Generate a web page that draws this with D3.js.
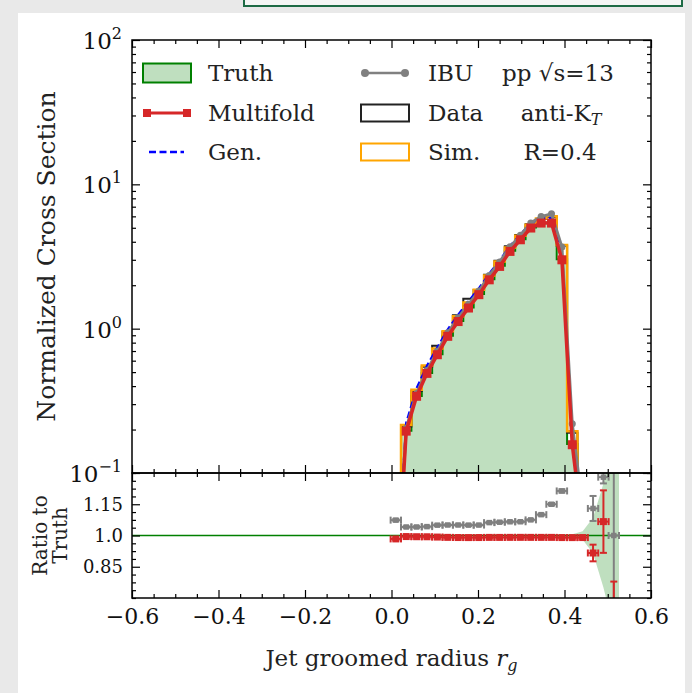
<!DOCTYPE html>
<html>
<head>
<meta charset="utf-8">
<script src="https://cdn.jsdelivr.net/npm/d3@7"></script>
<style>
  body { margin: 0; background: #e9e9e9; width: 692px; height: 693px; overflow: hidden; position: relative; }
  #topbox { position: absolute; left: 243px; top: -12px; width: 436px; height: 15px; border: 2px solid #1e6b45; background: #f5f6f5; }
  #card { position: absolute; left: 18px; top: 13px; width: 667px; height: 700px; background: #fff; }
  svg { position: absolute; left: 0; top: 0; }
</style>
</head>
<body>
<div id="topbox"></div>
<div id="card"></div>
<script>
// bins of the groomed radius
const rgCenters = [0.010, 0.034, 0.058, 0.082, 0.106, 0.130, 0.154, 0.178, 0.202, 0.226, 0.250,
                   0.274, 0.298, 0.322, 0.346, 0.370, 0.394, 0.418, 0.442, 0.466, 0.490, 0.514];
const binHalfWidth = 0.012;

// main panel values
const truthVals = [0.0122, 0.196, 0.342, 0.493, 0.665, 0.893, 1.131, 1.404, 1.737, 2.20, 2.725,
                   3.461, 4.167, 5.025, 5.439, 5.439, 3.03, 0.1586, 0.0404, 0.0131, 0.00375, 0.00167];
const multifoldVals = [0.0120, 0.195, 0.340, 0.490, 0.660, 0.885, 1.120, 1.390, 1.720, 2.180, 2.700,
                       3.430, 4.130, 4.980, 5.390, 5.390, 3.000, 0.157, 0.040, 0.0120, 0.0040, 0.0010];
const ibuVals = [0.0131, 0.204, 0.356, 0.514, 0.698, 0.938, 1.188, 1.474, 1.824, 2.336, 2.899,
                 3.689, 4.442, 5.402, 5.983, 6.255, 3.678, 0.219, 0.0574, 0.0148, 0.0048, 0.00167];
const genVals = [0.014, 0.222, 0.385, 0.552, 0.740, 0.985, 1.245, 1.540, 1.900, 2.400, 2.960,
                 3.740, 4.480, 5.380, 5.820, 5.850, 3.450, 0.172, 0.045, 0.013, 0.004, 0.001];
const dataVals = [0.014, 0.210, 0.370, 0.545, 0.760, 0.950, 1.240, 1.610, 1.850, 2.360, 2.950,
                  3.720, 4.450, 5.300, 5.750, 5.950, 3.750, 0.190, 0.050, 0.015, 0.005, 0.001];
const simVals = [0.015, 0.215, 0.378, 0.555, 0.730, 0.960, 1.220, 1.520, 1.860, 2.340, 2.920,
                 3.650, 4.400, 5.250, 5.800, 6.000, 3.800, 0.195, 0.050, 0.015, 0.005, 0.001];

// ratio panel uncertainties
const multifoldErr = [0.006, 0.004, 0.004, 0.004, 0.004, 0.004, 0.004, 0.004, 0.004, 0.004, 0.004,
                      0.004, 0.004, 0.004, 0.004, 0.004, 0.004, 0.005, 0.008, 0.04, 0.15, 0.18];
const ibuErr = [0.006, 0.004, 0.004, 0.004, 0.004, 0.004, 0.004, 0.004, 0.004, 0.004, 0.004,
                0.004, 0.004, 0.004, 0.005, 0.006, 0.008, 0.01, 0.02, 0.06, 0.03, 0.35];
const truthErr = [0.003, 0.003, 0.003, 0.003, 0.003, 0.003, 0.003, 0.003, 0.003, 0.003, 0.003,
                  0.003, 0.003, 0.003, 0.003, 0.003, 0.004, 0.006, 0.02, 0.085, 0.25, 0.45];

// ticks
const xTicks = [-0.6, -0.4, -0.2, 0.0, 0.2, 0.4, 0.6];
const xTickLabels = ['\u22120.6', '\u22120.4', '\u22120.2', '0.0', '0.2', '0.4', '0.6'];
const yMainTicks = [0.1, 1, 10, 100];
const yMainExp = ['\u22121', '0', '1', '2'];
const yRatioTicks = [0.85, 1.0, 1.15];
const yRatioLabels = ['0.85', '1.0', '1.15'];

const FONT = "'DejaVu Serif', serif";
const cTruth = '#008000', cRed = '#d62728', cGray = '#808080', cOrange = '#ffa500', cBlue = '#0000ff';

const L = 132, R = 651, T = 40, MB = 473, RB = 598;

const svg = d3.select('body').append('svg').attr('width', 692).attr('height', 693);

const x = d3.scaleLinear().domain([-0.6, 0.6]).range([L, R]);
const yMain = d3.scaleLog().domain([0.1, 100]).range([MB, T]);
const yRatio = d3.scaleLinear().domain([0.7, 1.3]).range([RB, MB]);

const defs = svg.append('defs');
defs.append('clipPath').attr('id', 'clipMain').append('rect')
  .attr('x', L).attr('y', T).attr('width', R - L).attr('height', MB - T);
defs.append('clipPath').attr('id', 'clipRatio').append('rect')
  .attr('x', L).attr('y', MB).attr('width', R - L).attr('height', RB - MB);

// ---------- main panel ----------
const main = svg.append('g').attr('clip-path', 'url(#clipMain)');

function stepPoints(vals) {
  const pts = [[rgCenters[0] - binHalfWidth, 1e-4]];
  vals.forEach((v, i) => {
    pts.push([rgCenters[i] - binHalfWidth, v]);
    pts.push([rgCenters[i] + binHalfWidth, v]);
  });
  pts.push([rgCenters[rgCenters.length - 1] + binHalfWidth, 1e-4]);
  return pts;
}
const stepLine = d3.line().x(d => x(d[0])).y(d => yMain(d[1]));

main.append('path')
  .attr('d', stepLine(stepPoints(truthVals)) + 'Z')
  .attr('fill', 'rgba(0,128,0,0.25)')
  .attr('stroke', cTruth).attr('stroke-width', 2);

main.append('path')
  .attr('d', stepLine(stepPoints(dataVals)))
  .attr('fill', 'none').attr('stroke', '#222').attr('stroke-width', 2);

main.append('path')
  .attr('d', stepLine(stepPoints(simVals)))
  .attr('fill', 'none').attr('stroke', cOrange).attr('stroke-width', 2.5);

const ptLine = d3.line().x((d, i) => x(rgCenters[i])).y(d => yMain(d));

main.append('path')
  .attr('d', ptLine(genVals))
  .attr('fill', 'none').attr('stroke', cBlue).attr('stroke-width', 2.4)
  .attr('stroke-dasharray', '7,3.5');

main.append('path')
  .attr('d', ptLine(ibuVals))
  .attr('fill', 'none').attr('stroke', cGray).attr('stroke-width', 3);
main.selectAll('circle.ibu')
  .data(ibuVals)
  .enter()
  .append('circle')
    .attr('cx', (d, i) => x(rgCenters[i]))
    .attr('cy', d => yMain(d))
    .attr('r', 3.5)
    .attr('fill', cGray);

main.append('path')
  .attr('d', ptLine(multifoldVals))
  .attr('fill', 'none').attr('stroke', cRed).attr('stroke-width', 3.5);
main.selectAll('rect.mf')
  .data(multifoldVals)
  .enter()
  .append('rect')
    .attr('x', (d, i) => x(rgCenters[i]) - 4.5)
    .attr('y', d => yMain(d) - 4.5)
    .attr('width', 9).attr('height', 9)
    .attr('fill', cRed);

// ---------- ratio panel ----------
const ratio = svg.append('g').attr('clip-path', 'url(#clipRatio)');

const bandPts = rgCenters.map((c, i) => [c, truthErr[i]]);
bandPts.push([rgCenters[rgCenters.length - 1] + binHalfWidth, truthErr[truthErr.length - 1]]);
ratio.append('path')
  .attr('d', d3.area().x(d => x(d[0])).y0(d => yRatio(1 - d[1])).y1(d => yRatio(1 + d[1]))(bandPts))
  .attr('fill', 'rgba(0,128,0,0.25)');

ratio.append('line')
  .attr('x1', L).attr('x2', R)
  .attr('y1', yRatio(1)).attr('y2', yRatio(1))
  .attr('stroke', cTruth).attr('stroke-width', 1.6);

function drawRatio(vals, errs, color, msize) {
  const g = ratio.append('g').attr('stroke', color).attr('stroke-width', 2);
  vals.forEach((v, i) => {
    const r = v / truthVals[i];
    const cx = x(rgCenters[i]), cy = yRatio(r);
    const xl = x(rgCenters[i] - binHalfWidth), xr = x(rgCenters[i] + binHalfWidth);
    const yt = yRatio(r + errs[i]), yb = yRatio(r - errs[i]);
    g.append('line').attr('x1', xl).attr('x2', xr).attr('y1', cy).attr('y2', cy);
    g.append('line').attr('x1', xl).attr('x2', xl).attr('y1', cy - 3.5).attr('y2', cy + 3.5);
    g.append('line').attr('x1', xr).attr('x2', xr).attr('y1', cy - 3.5).attr('y2', cy + 3.5);
    g.append('line').attr('x1', cx).attr('x2', cx).attr('y1', yt).attr('y2', yb);
    g.append('line').attr('x1', cx - 3.5).attr('x2', cx + 3.5).attr('y1', yt).attr('y2', yt);
    g.append('line').attr('x1', cx - 3.5).attr('x2', cx + 3.5).attr('y1', yb).attr('y2', yb);
    g.append('rect').attr('x', cx - msize / 2).attr('y', cy - msize / 2)
      .attr('width', msize).attr('height', msize).attr('fill', color).attr('stroke', 'none');
  });
}
drawRatio(ibuVals, ibuErr, cGray, 5.5);
drawRatio(multifoldVals, multifoldErr, cRed, 7);

// ---------- axes ----------
function tidy(g) {
  g.select('.domain').remove();
  g.selectAll('line').attr('stroke', '#000').attr('stroke-width', 1.2);
  g.selectAll('text').attr('font-family', FONT).attr('fill', '#111');
  return g;
}
const xMinor = d3.range(-0.6, 0.6001, 0.05).filter(v => Math.abs(v * 5 - Math.round(v * 5)) > 1e-6);
const yMainMinor = [];
[0.1, 1, 10].forEach(dec => { for (let m = 2; m <= 9; m++) yMainMinor.push(dec * m); });
const yRatioMinor = d3.range(0.7, 1.3001, 0.0375).filter(v => !yRatioTicks.some(t => Math.abs(t - v) < 1e-6));

function xAxes(yPos, orient, withLabels) {
  const maj = (orient === 'bottom' ? d3.axisBottom(x) : d3.axisTop(x))
    .tickValues(xTicks).tickSize(-8).tickPadding(10)
    .tickFormat((d, i) => withLabels ? xTickLabels[i] : '');
  tidy(svg.append('g').attr('transform', `translate(0,${yPos})`).call(maj))
    .selectAll('text').attr('font-size', 22);
  const mi = (orient === 'bottom' ? d3.axisBottom(x) : d3.axisTop(x))
    .tickValues(xMinor).tickSize(-4).tickFormat('');
  tidy(svg.append('g').attr('transform', `translate(0,${yPos})`).call(mi));
}
xAxes(MB, 'bottom', false);
xAxes(T, 'top', false);
xAxes(RB, 'bottom', true);
xAxes(MB, 'top', false);

function yAxes(scale, major, minor) {
  [[d3.axisLeft, L], [d3.axisRight, R]].forEach(([ax, pos]) => {
    tidy(svg.append('g').attr('transform', `translate(${pos},0)`)
      .call(ax(scale).tickValues(major).tickSize(-8).tickFormat('')));
    tidy(svg.append('g').attr('transform', `translate(${pos},0)`)
      .call(ax(scale).tickValues(minor).tickSize(-4).tickFormat('')));
  });
}
yAxes(yMain, yMainTicks, yMainMinor);
yAxes(yRatio, yRatioTicks, yRatioMinor);

// log tick labels
yMainTicks.forEach((t, i) => {
  const tx = svg.append('text')
    .attr('x', L - 10).attr('y', yMain(t) + 9)
    .attr('text-anchor', 'end')
    .attr('font-family', FONT).attr('font-size', 23).attr('fill', '#111');
  tx.append('tspan').text('10');
  tx.append('tspan').attr('dy', -10).attr('font-size', 16).text(yMainExp[i]);
});

yRatioTicks.forEach((t, i) => {
  svg.append('text')
    .attr('x', L - 9).attr('y', yRatio(t) + 6.5)
    .attr('text-anchor', 'end')
    .attr('font-family', FONT).attr('font-size', 18).attr('fill', '#111')
    .text(yRatioLabels[i]);
});

// frames
svg.append('rect').attr('x', L).attr('y', T).attr('width', R - L).attr('height', MB - T)
  .attr('fill', 'none').attr('stroke', '#000').attr('stroke-width', 1.5);
svg.append('rect').attr('x', L).attr('y', MB).attr('width', R - L).attr('height', RB - MB)
  .attr('fill', 'none').attr('stroke', '#000').attr('stroke-width', 1.5);

// axis labels
svg.append('text')
  .attr('transform', `translate(55,${(T + MB) / 2}) rotate(-90)`)
  .attr('text-anchor', 'middle')
  .attr('font-family', FONT).attr('font-size', 25).attr('fill', '#222')
  .text('Normalized Cross Section');

const rl = svg.append('text')
  .attr('transform', `translate(50,${(MB + RB) / 2}) rotate(-90)`)
  .attr('text-anchor', 'middle')
  .attr('font-family', FONT).attr('font-size', 20).attr('fill', '#222');
rl.append('tspan').attr('x', 0).attr('dy', -3).text('Ratio to');
rl.append('tspan').attr('x', 0).attr('dy', 20).text('Truth');

const xl = svg.append('text')
  .attr('x', (L + R) / 2).attr('y', 666)
  .attr('text-anchor', 'middle')
  .attr('font-family', FONT).attr('font-size', 23).attr('fill', '#222');
xl.append('tspan').text('Jet groomed radius ');
xl.append('tspan').attr('font-style', 'italic').text('r');
xl.append('tspan').attr('font-style', 'italic').attr('font-size', 16).attr('dy', 5).text('g');

// ---------- legend ----------
const leg = svg.append('g').attr('font-family', FONT).attr('font-size', 23).attr('fill', '#222');
const rowY = [73, 113, 152];

leg.append('rect').attr('x', 143).attr('y', rowY[0] - 9.5).attr('width', 48).attr('height', 19)
  .attr('fill', 'rgba(0,128,0,0.25)').attr('stroke', cTruth).attr('stroke-width', 2);
leg.append('line').attr('x1', 147).attr('x2', 187).attr('y1', rowY[1]).attr('y2', rowY[1])
  .attr('stroke', cRed).attr('stroke-width', 3);
[147, 187].forEach(px => leg.append('rect').attr('x', px - 4).attr('y', rowY[1] - 4)
  .attr('width', 8).attr('height', 8).attr('fill', cRed));
leg.append('line').attr('x1', 149).attr('x2', 184).attr('y1', rowY[2]).attr('y2', rowY[2])
  .attr('stroke', cBlue).attr('stroke-width', 2.4).attr('stroke-dasharray', '7,3.5');

['Truth', 'Multifold', 'Gen.'].forEach((t, i) =>
  leg.append('text').attr('x', 208).attr('y', rowY[i] + 8).text(t));

leg.append('line').attr('x1', 365).attr('x2', 405).attr('y1', rowY[0]).attr('y2', rowY[0])
  .attr('stroke', cGray).attr('stroke-width', 2.5);
[365, 405].forEach(px => leg.append('circle').attr('cx', px).attr('cy', rowY[0]).attr('r', 4).attr('fill', cGray));
leg.append('rect').attr('x', 361).attr('y', rowY[1] - 8.5).attr('width', 48).attr('height', 17)
  .attr('fill', 'none').attr('stroke', '#222').attr('stroke-width', 2);
leg.append('rect').attr('x', 361).attr('y', rowY[2] - 8.5).attr('width', 48).attr('height', 17)
  .attr('fill', 'none').attr('stroke', cOrange).attr('stroke-width', 2);

['IBU', 'Data', 'Sim.'].forEach((t, i) =>
  leg.append('text').attr('x', 428).attr('y', rowY[i] + 8).text(t));

leg.append('text').attr('x', 558).attr('y', rowY[0] + 8).attr('text-anchor', 'middle').text('pp \u221As=13');
const ak = leg.append('text').attr('x', 561).attr('y', rowY[1] + 8).attr('text-anchor', 'middle');
ak.append('tspan').text('anti-K');
ak.append('tspan').attr('font-style', 'italic').attr('font-size', 16).attr('dy', 4).text('T');
leg.append('text').attr('x', 560).attr('y', rowY[2] + 8).attr('text-anchor', 'middle').text('R=0.4');
</script>
</body>
</html>
